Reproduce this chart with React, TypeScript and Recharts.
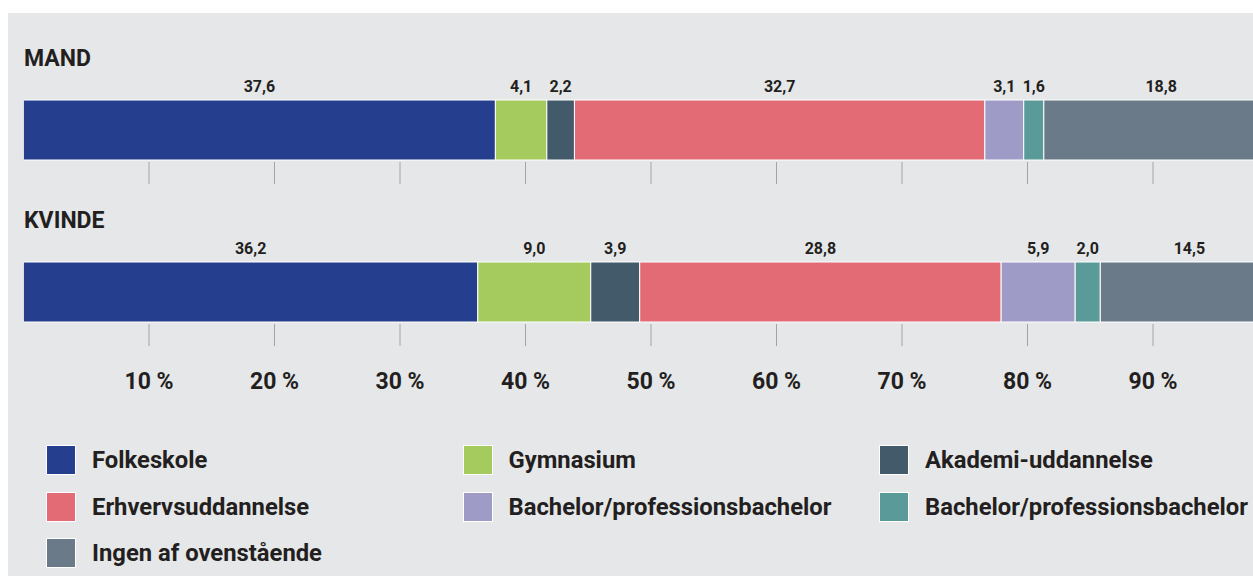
import React from 'react';
import { BarChart, Bar, XAxis, YAxis, LabelList } from 'recharts';

const categories = ['MAND', 'KVINDE'];
const folkeskole = [37.6, 36.2];
const gymnasium = [4.1, 9.0];
const akademi = [2.2, 3.9];
const erhverv = [32.7, 28.8];
const bachelor = [3.1, 5.9];
const bachelor2 = [1.6, 2.0];
const ingen = [18.8, 14.5];
const xTicks = [10, 20, 30, 40, 50, 60, 70, 80, 90];

const seriesDefs = [
  { key: 'folkeskole', name: 'Folkeskole', color: '#253f8e', values: folkeskole },
  { key: 'gymnasium', name: 'Gymnasium', color: '#a5ca5e', values: gymnasium },
  { key: 'akademi', name: 'Akademi-uddannelse', color: '#435a6b', values: akademi },
  { key: 'erhverv', name: 'Erhvervsuddannelse', color: '#e36b75', values: erhverv },
  { key: 'bachelor', name: 'Bachelor/professionsbachelor', color: '#9e9bc6', values: bachelor },
  { key: 'bachelor2', name: 'Bachelor/professionsbachelor', color: '#5a9a98', values: bachelor2 },
  { key: 'ingen', name: 'Ingen af ovenstående', color: '#6b7a89', values: ingen },
];

const rows = categories.map((name, i) => {
  const r: any = { name };
  seriesDefs.forEach((s) => {
    r[s.key] = s.values[i];
  });
  return r;
});

const FONT = 'Roboto, "Noto Sans", sans-serif';
const TEXT = '#231f20';
const BG = '#e6e7e9';

const fmt = (v: any) => {
  const n = Array.isArray(v) ? v[1] - v[0] : Number(v);
  return n.toFixed(1).replace('.', ',');
};

const makeTick = (withLabel: boolean) => (props: any) => {
  const { x, y, payload } = props;
  return (
    <g>
      <line x1={x} x2={x} y1={y + 2} y2={y + 24} stroke="#a3a4a6" strokeWidth={1} />
      {withLabel && (
        <text
          x={x}
          y={y + 67}
          textAnchor="middle"
          fill={TEXT}
          fontSize={23}
          fontWeight={700}
          fontFamily={FONT}
        >
          {`${payload.value} %`}
        </text>
      )}
    </g>
  );
};

const CHART_W = 1300;

function Row({ index, axisHeight, withLabel }: { index: number; axisHeight: number; withLabel: boolean }) {
  return (
    <BarChart
      width={CHART_W}
      height={30 + 60 + axisHeight}
      data={[rows[index]]}
      layout="vertical"
      barCategoryGap={0}
      margin={{ top: 30, right: 29.5, bottom: 0, left: 15.5 }}
      style={{ fontFamily: FONT, maxWidth: 'none' }}
    >
      <XAxis
        type="number"
        domain={[0, 100]}
        allowDataOverflow
        ticks={xTicks}
        axisLine={false}
        tickLine={false}
        tickSize={0}
        tickMargin={0}
        height={axisHeight}
        interval={0}
        tick={makeTick(withLabel)}
      />
      <YAxis type="category" dataKey="name" hide width={0} />
      {seriesDefs.map((s) => (
        <Bar
          key={s.key}
          dataKey={s.key}
          stackId="a"
          fill={s.color}
          stroke="#ffffff"
          strokeWidth={1}
          isAnimationActive={false}
        >
          <LabelList
            dataKey={s.key}
            position="top"
            offset={8}
            formatter={fmt}
            fill={TEXT}
            fontSize={16}
            fontWeight={700}
            fontFamily={FONT}
          />
        </Bar>
      ))}
    </BarChart>
  );
}

const titleStyle: React.CSSProperties = {
  position: 'absolute',
  left: 16,
  fontFamily: FONT,
  fontWeight: 700,
  fontSize: 23,
  lineHeight: '23px',
  color: TEXT,
};

export default function App() {
  return (
    <div>
      <style>{'html{overflow:hidden}'}</style>
      <div
        style={{
          position: 'fixed',
          left: 8,
          top: 13,
          width: 1245,
          minWidth: 1245,
          maxWidth: 'none',
          height: 563,
          background: BG,
          overflow: 'hidden',
        }}
      >
        <div style={{ ...titleStyle, top: 33.7 }}>{categories[0]}</div>
        <div style={{ position: 'absolute', left: 0, top: 57 }}>
          <Row index={0} axisHeight={30} withLabel={false} />
        </div>
        <div style={{ ...titleStyle, top: 195.7 }}>{categories[1]}</div>
        <div style={{ position: 'absolute', left: 0, top: 219 }}>
          <Row index={1} axisHeight={90} withLabel={true} />
        </div>
        <div
          style={{
            position: 'absolute',
            left: 38,
            top: 432,
            display: 'grid',
            gridTemplateColumns: '416.5px 416.5px 416.5px',
            rowGap: 16.5,
          }}
        >
          {seriesDefs.map((s, i) => (
            <div key={i} style={{ display: 'flex', alignItems: 'center', height: 30 }}>
              <div
                style={{
                  width: 30,
                  height: 30,
                  boxSizing: 'border-box',
                  border: '1px solid #ffffff',
                  background: s.color,
                  flex: 'none',
                }}
              />
              <span
                style={{
                  marginLeft: 16,
                  fontFamily: FONT,
                  fontWeight: 700,
                  fontSize: 23.8,
                  lineHeight: '24px',
                  color: TEXT,
                  whiteSpace: 'nowrap',
                }}
              >
                {s.name}
              </span>
            </div>
          ))}
        </div>
      </div>
    </div>
  );
}
